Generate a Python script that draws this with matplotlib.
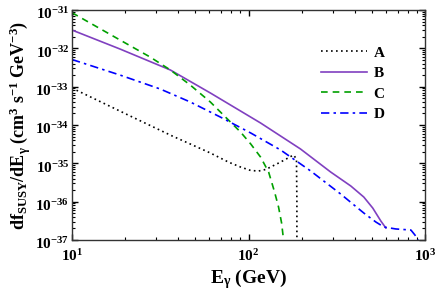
import matplotlib
matplotlib.use("Agg")
import matplotlib.pyplot as plt
import matplotlib.transforms as mtransforms
import numpy as np
from matplotlib.ticker import LogLocator, FuncFormatter, NullFormatter

plt.rcParams['font.family'] = ['Liberation Serif', 'DejaVu Serif']
plt.rcParams['font.weight'] = 'bold'
plt.rcParams['mathtext.fontset'] = 'custom'
plt.rcParams['mathtext.rm'] = 'Liberation Serif:bold'
plt.rcParams['mathtext.bf'] = 'Liberation Serif:bold'
plt.rcParams['mathtext.it'] = 'Liberation Serif:bold'

# curves (E in GeV, flux in cm^3 s^-1 GeV^-3)
E_A = [10, 21.4, 37, 46.8, 60.8, 76.9, 90.1, 103, 114, 125, 152, 180, 187, 188, 188]
f_A = [9.2e-34, 1.71e-34, 5.16e-35, 3.19e-35, 1.86e-35, 1.08e-35, 8.02e-36, 6.5e-36,
       6.3e-36, 6.9e-36, 1.08e-35, 1.65e-35, 1.3e-35, 1e-36, 1e-38]

E_B = [10, 18.7, 36.1, 60.8, 117, 197, 292, 380, 450, 506, 562, 600]
f_B = [3.0e-32, 9.6e-33, 2.72e-33, 6.84e-34, 1.13e-34, 2.37e-35, 5.94e-36, 2.56e-36,
       1.32e-36, 6.8e-37, 3.13e-37, 2.06e-37]

E_C = [10, 18.7, 27.7, 36.1, 46.8, 60.8, 76.0, 90.1, 103, 117, 130, 140.5, 148, 154, 158, 159]
f_C = [8.5e-32, 1.65e-32, 5.94e-33, 2.72e-33, 1.10e-33, 3.98e-34, 1.43e-34, 6.56e-35,
       3.19e-35, 1.46e-35, 5.94e-36, 1.79e-36, 7.24e-37, 2.77e-37, 1e-37, 5e-38]

E_D = [10, 18.7, 31.6, 46.8, 69.3, 103, 152, 225, 333, 450, 527, 585, 684, 832, 877, 912, 920]
f_D = [5.11e-33, 2.01e-33, 8.69e-34, 3.98e-34, 1.61e-34, 6.18e-35, 2.23e-35, 6.31e-36,
       1.58e-36, 5.06e-37, 2.94e-37, 2.18e-37, 1.94e-37, 1.82e-37, 1.35e-37, 1e-37, 5e-38]

fig = plt.figure(figsize=(4.37, 2.92), dpi=100)
ax = fig.add_axes([72 / 437, 52 / 292, 353 / 437, 230 / 292])

ax.plot(E_A, f_A, color='black', lw=1.2, dashes=(1, 2), label='A')
ax.plot(E_B, f_B, color='#8040c0', lw=1.2, label='B')
ax.plot(E_C, f_C, color='#00a000', lw=1.2, dashes=(4, 3), label='C')
ax.plot(E_D, f_D, color='#0000ff', lw=1.2, dashes=(5, 2.5, 1.5, 2.5), label='D')

ax.set_xscale('log')
ax.set_yscale('log')
ax.set_xlim(10, 1000)
ax.set_ylim(1e-37, 1e-31)


def pow10(v, pos):
    return r'$\mathbf{10^{%d}}$' % int(round(np.log10(v)))


ax.xaxis.set_major_locator(LogLocator(base=10, numticks=10))
ax.yaxis.set_major_locator(LogLocator(base=10, numticks=10))
ax.xaxis.set_minor_locator(LogLocator(base=10, subs=np.arange(2, 10), numticks=20))
ax.yaxis.set_minor_locator(LogLocator(base=10, subs=np.arange(2, 10), numticks=20))
ax.xaxis.set_major_formatter(FuncFormatter(pow10))
ax.yaxis.set_major_formatter(FuncFormatter(pow10))
ax.xaxis.set_minor_formatter(NullFormatter())
ax.yaxis.set_minor_formatter(NullFormatter())

ax.tick_params(which='both', direction='in', top=True, right=True, labelsize=11)
ax.tick_params(which='major', length=4, width=1)
ax.tick_params(which='minor', length=2, width=0.8)
ax.tick_params(axis='x', pad=6)
ax.tick_params(axis='y', pad=2)
for s in ax.spines.values():
    s.set_linewidth(1.0)
    s.set_color('#333333')

ax.set_xlabel(r'$\mathbf{E_{\gamma}}$ (GeV)', fontsize=14, fontweight='bold', labelpad=2)
ax.set_ylabel(r'$\mathbf{df_{SUSY}/dE_{\gamma}}$ (cm$^{\mathbf{3}}$ s$^{\mathbf{-1}}$ GeV$^{\mathbf{-3}}$)',
              fontsize=13, fontweight='bold', labelpad=2)

ax.legend(loc='upper left', bbox_to_anchor=(249 / 353, 1 - 36 / 230), frameon=False,
          fontsize=11, handlelength=3.0, handletextpad=0.45, labelspacing=0.45,
          borderpad=0, borderaxespad=0)

# nudge y tick labels down a little so the top one stays inside the figure
fig.canvas.draw()
shift = mtransforms.ScaledTranslation(0, -3 / 100, fig.dpi_scale_trans)
for lbl in ax.get_yticklabels():
    lbl.set_transform(lbl.get_transform() + shift)

fig.savefig('out.png', dpi=100)
